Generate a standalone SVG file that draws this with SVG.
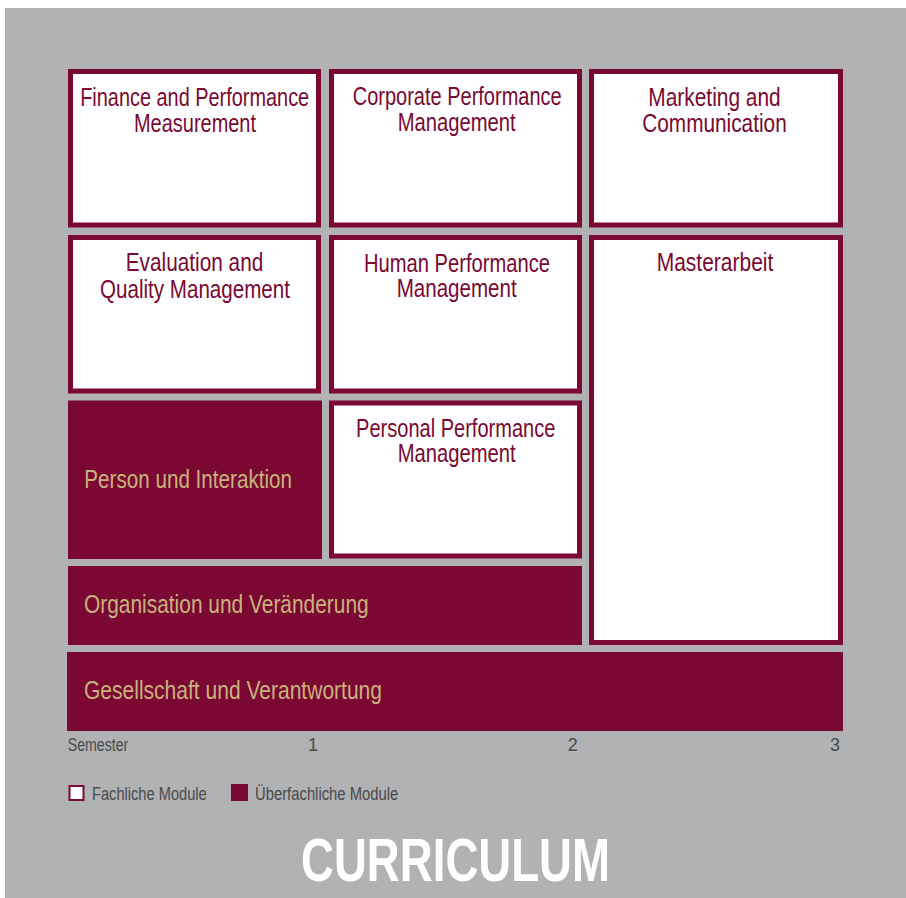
<svg xmlns="http://www.w3.org/2000/svg" width="906" height="898" viewBox="0 0 906 898">
<style>
.bg{fill:#b1b2b4}
.box{fill:#ffffff;stroke:#7a0832;stroke-width:5}
.fill{fill:#7a0832}
.t{font-family:"Liberation Sans",Arial,sans-serif;font-size:26px;fill:#7a0832;text-anchor:middle}
.g{font-family:"Liberation Sans",Arial,sans-serif;font-size:26px;fill:#c9b27c}
.s{font-family:"Liberation Sans",Arial,sans-serif;font-size:18px;fill:#4a4a4c}
.title{font-family:"Liberation Sans",Arial,sans-serif;font-size:62px;font-weight:bold;fill:#ffffff}
</style>
<rect x="0" y="0" width="906" height="898" fill="#ffffff"/>
<rect class="bg" x="5" y="8" width="901" height="890"/>

<g id="finance">
<rect class="box" x="70.5" y="71.5" width="248" height="153.5"/>
<text class="t" x="194.7" y="106" textLength="229" lengthAdjust="spacingAndGlyphs">Finance and Performance</text>
<text class="t" x="195" y="131.7" textLength="122" lengthAdjust="spacingAndGlyphs">Measurement</text>
</g>
<g id="corporate">
<rect class="box" x="331.5" y="71.5" width="248" height="153.5"/>
<text class="t" x="457.2" y="105" textLength="209" lengthAdjust="spacingAndGlyphs">Corporate Performance</text>
<text class="t" x="456.7" y="130.7" textLength="118" lengthAdjust="spacingAndGlyphs">Management</text>
</g>
<g id="marketing">
<rect class="box" x="591.5" y="71.5" width="249" height="153.5"/>
<text class="t" x="714.5" y="105.7" textLength="132.4" lengthAdjust="spacingAndGlyphs">Marketing and</text>
<text class="t" x="714.5" y="131.7" textLength="144.4" lengthAdjust="spacingAndGlyphs">Communication</text>
</g>
<g id="evaluation">
<rect class="box" x="70.5" y="237.5" width="248" height="153.5"/>
<text class="t" x="194.5" y="271" textLength="137.6" lengthAdjust="spacingAndGlyphs">Evaluation and</text>
<text class="t" x="195" y="297.7" textLength="190" lengthAdjust="spacingAndGlyphs">Quality Management</text>
</g>
<g id="human">
<rect class="box" x="331.5" y="237.5" width="248" height="153.5"/>
<text class="t" x="457" y="271.7" textLength="186" lengthAdjust="spacingAndGlyphs">Human Performance</text>
<text class="t" x="456.7" y="297.3" textLength="120" lengthAdjust="spacingAndGlyphs">Management</text>
</g>
<g id="masterarbeit">
<rect class="box" x="591.5" y="237.5" width="249" height="405"/>
<text class="t" x="715" y="271" textLength="116.6" lengthAdjust="spacingAndGlyphs">Masterarbeit</text>
</g>
<g id="person">
<rect class="fill" x="68" y="400.5" width="254" height="158.5"/>
<text class="g" x="84.3" y="488.3" textLength="207.7" lengthAdjust="spacingAndGlyphs">Person und Interaktion</text>
</g>
<g id="personal">
<rect class="box" x="331.5" y="403" width="248" height="153"/>
<text class="t" x="455.7" y="436.7" textLength="199.3" lengthAdjust="spacingAndGlyphs">Personal Performance</text>
<text class="t" x="456.7" y="462.3" textLength="118" lengthAdjust="spacingAndGlyphs">Management</text>
</g>
<g id="organisation">
<rect class="fill" x="68" y="566" width="514" height="79"/>
<text class="g" x="84" y="613.3" textLength="284.7" lengthAdjust="spacingAndGlyphs">Organisation und Veränderung</text>
</g>
<g id="gesellschaft">
<rect class="fill" x="67" y="652" width="776" height="79"/>
<text class="g" x="84" y="699" textLength="298" lengthAdjust="spacingAndGlyphs">Gesellschaft und Verantwortung</text>
</g>

<g id="connectors"></g>

<g id="axis">
<text class="s" x="67.7" y="751" textLength="60.6" lengthAdjust="spacingAndGlyphs">Semester</text>
<text class="s" x="313" y="751" text-anchor="middle">1</text>
<text class="s" x="572.7" y="751" text-anchor="middle">2</text>
<text class="s" x="835" y="751" text-anchor="middle">3</text>
</g>

<g id="legend">
<rect x="69.5" y="786" width="14" height="14" fill="#ffffff" stroke="#7a0832" stroke-width="2"/>
<text class="s" x="92" y="800" textLength="114.7" lengthAdjust="spacingAndGlyphs">Fachliche Module</text>
<rect class="fill" x="231" y="784" width="17" height="17"/>
<text class="s" x="255" y="800" textLength="143.3" lengthAdjust="spacingAndGlyphs">Überfachliche Module</text>
</g>

<text class="title" x="301" y="881" textLength="309" lengthAdjust="spacingAndGlyphs">CURRICULUM</text>
</svg>
